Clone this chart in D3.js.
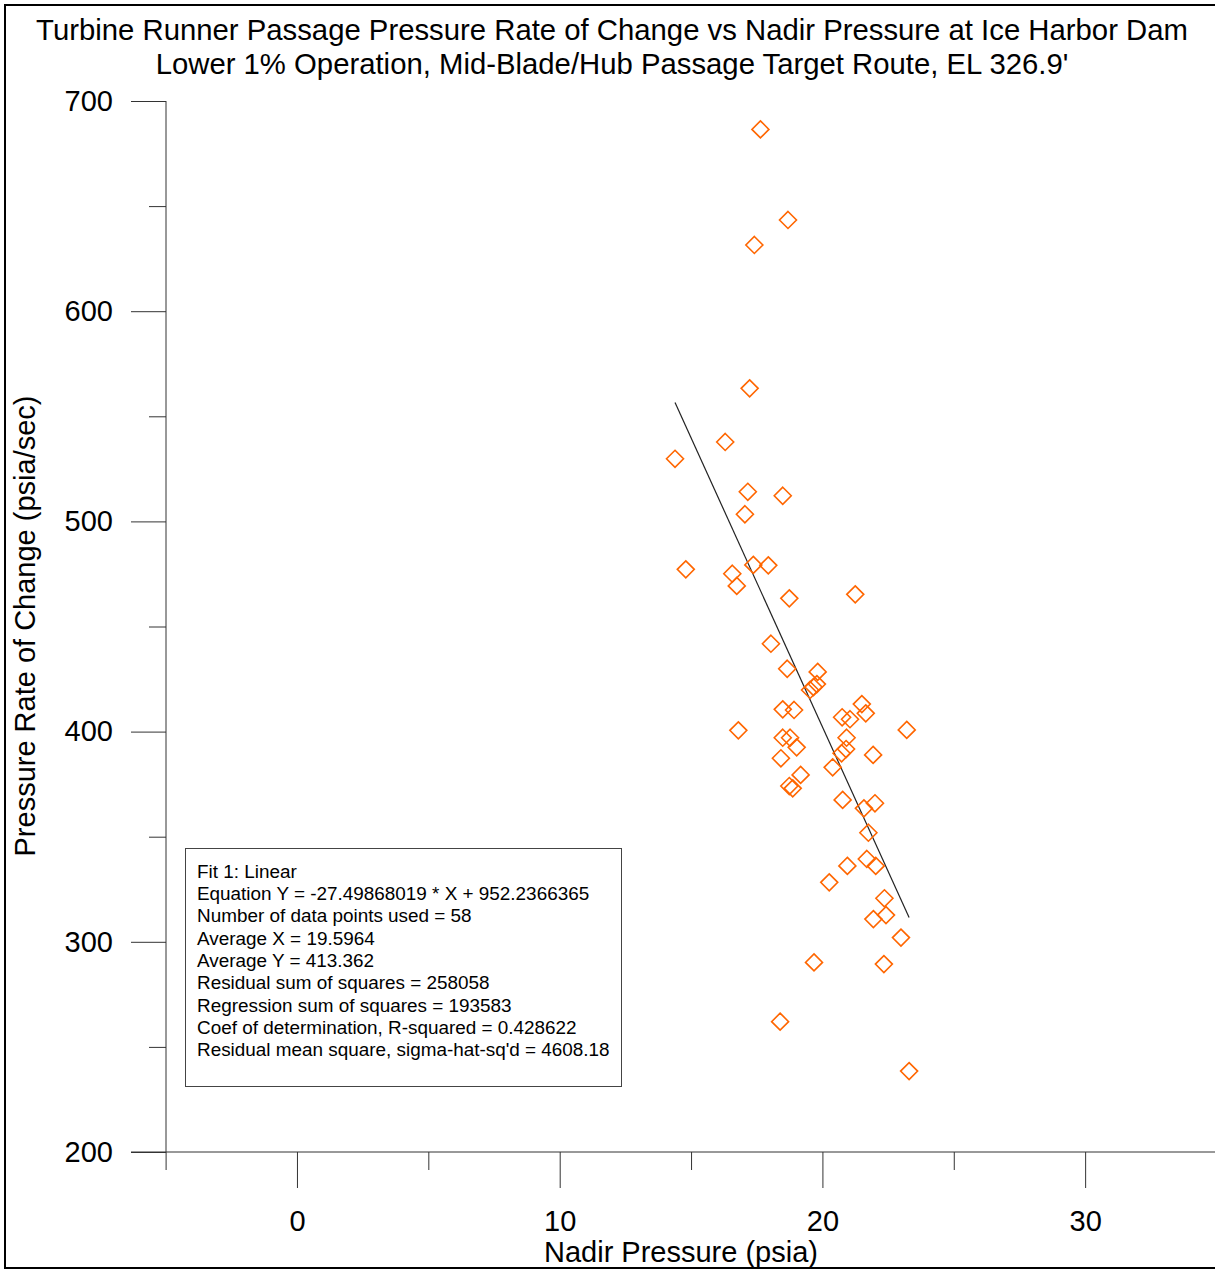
<!DOCTYPE html>
<html>
<head>
<meta charset="utf-8">
<script src="https://cdn.jsdelivr.net/npm/d3@7/dist/d3.min.js"></script>
<style>
  html, body { margin: 0; padding: 0; background: #fff; }
  svg text { font-family: "Liberation Sans", Arial, sans-serif; fill: #000; }
</style>
</head>
<body>
<svg id="chart" width="1215" height="1271"></svg>
<script>
// ---- Data ----
const nadirPressure = [
  17.64, 18.69, 17.41, 17.23, 16.30, 14.39, 17.16, 18.49, 17.05, 14.80,
  16.57, 16.74, 17.37, 17.94, 18.74, 21.25, 18.04, 18.66, 19.82, 19.53,
  19.66, 19.79, 18.49, 18.92, 20.75, 21.50, 21.65, 21.05, 16.80, 23.21,
  18.49, 18.77, 19.02, 20.92, 18.42, 20.90, 20.73, 21.93, 20.39, 19.17,
  18.74, 18.87, 20.77, 22.00, 21.58, 21.75, 20.95, 21.69, 22.03, 20.26,
  22.36, 21.94, 22.42, 22.99, 19.68, 22.34, 18.39, 23.30
];
const rateOfChange = [
  686.5, 643.4, 631.5, 563.3, 537.8, 529.8, 514.1, 512.2, 503.4, 477.2,
  475.1, 469.3, 479.3, 479.1, 463.4, 465.3, 441.8, 429.9, 428.4, 419.8,
  421.2, 422.6, 410.6, 410.3, 406.8, 413.1, 408.7, 405.9, 400.6, 400.8,
  397.1, 397.1, 392.5, 397.1, 387.3, 391.7, 389.7, 388.9, 383.0, 379.4,
  374.1, 373.0, 367.5, 365.9, 363.5, 351.9, 336.1, 339.4, 336.1, 328.3,
  320.7, 310.8, 312.7, 302.0, 290.2, 289.4, 262.0, 238.5
];
const fitSlope = -27.49868019;
const fitIntercept = 952.2366365;

const xMajorTicks = [0, 10, 20, 30];
const xMinorTicks = [-5, 5, 15, 25];
const yMajorTicks = [200, 300, 400, 500, 600, 700];
const yMinorTicks = [250, 350, 450, 550, 650];

const titleLines = [
  "Turbine Runner Passage Pressure Rate of Change vs Nadir Pressure at Ice Harbor Dam",
  "Lower 1% Operation, Mid-Blade/Hub Passage Target Route, EL 326.9'"
];
const xTitle = "Nadir Pressure (psia)";
const yTitle = "Pressure Rate of Change (psia/sec)";
const fitLines = [
  "Fit 1: Linear",
  "Equation Y = -27.49868019 * X + 952.2366365",
  "Number of data points used = 58",
  "Average X = 19.5964",
  "Average Y = 413.362",
  "Residual sum of squares = 258058",
  "Regression sum of squares = 193583",
  "Coef of determination, R-squared = 0.428622",
  "Residual mean square, sigma-hat-sq'd = 4608.18"
];

// ---- Drawing ----
const svg = d3.select("#chart");
const FS = 29;
const x = d3.scaleLinear().domain([-5, 35]).range([165.6, 1216.5]);
const y = d3.scaleLinear().domain([200, 700]).range([1152, 101]);
const axisColor = "#333";

// outer frame
svg.append("rect").attr("x", 5).attr("y", 5).attr("width", 1300).attr("height", 1263)
  .attr("fill", "none").attr("stroke", "#000").attr("stroke-width", 2);

// title
svg.selectAll("text.title").data(titleLines).join("text")
  .attr("class", "title")
  .attr("x", 612).attr("y", (d, i) => 40 + i * 34)
  .attr("text-anchor", "middle").style("font-size", "29.3px")
  .text(d => d);

// x axis
function styleAxis(g) {
  g.select(".domain").remove();
  g.selectAll(".tick line").attr("stroke", axisColor).attr("stroke-width", 1);
}
svg.append("g").attr("transform", "translate(0,1152)")
  .call(d3.axisBottom(x).tickValues(xMinorTicks).tickSize(18).tickFormat(""))
  .call(styleAxis);
const gxMajor = svg.append("g").attr("transform", "translate(0,1152)")
  .call(d3.axisBottom(x).tickValues(xMajorTicks).tickSize(36).tickPadding(22).tickFormat(d3.format("d")))
  .call(styleAxis);
gxMajor.selectAll(".tick text").style("font-size", FS + "px").attr("fill", "#000");
svg.append("line").attr("x1", 131).attr("x2", 1215).attr("y1", 1152).attr("y2", 1152)
  .attr("stroke", axisColor);

// y axis
svg.append("g").attr("transform", "translate(166,0)")
  .call(d3.axisLeft(y).tickValues(yMinorTicks).tickSize(17).tickFormat(""))
  .call(styleAxis);
const gyMajor = svg.append("g").attr("transform", "translate(166,0)")
  .call(d3.axisLeft(y).tickValues(yMajorTicks).tickSize(35).tickPadding(18).tickFormat(d3.format("d")))
  .call(styleAxis);
gyMajor.selectAll(".tick text").style("font-size", FS + "px").attr("fill", "#000");
svg.append("line").attr("x1", 166).attr("x2", 166).attr("y1", 101).attr("y2", 1152)
  .attr("stroke", axisColor);

// axis titles
svg.append("text").attr("x", 681).attr("y", 1262).attr("text-anchor", "middle")
  .style("font-size", FS + "px").text(xTitle);
svg.append("text").attr("transform", "translate(35,626) rotate(-90)").attr("text-anchor", "middle")
  .style("font-size", FS + "px").text(yTitle);

// regression line over the data range
const xExt = d3.extent(nadirPressure);
svg.append("line")
  .attr("x1", x(xExt[0])).attr("y1", y(fitSlope * xExt[0] + fitIntercept))
  .attr("x2", x(xExt[1])).attr("y2", y(fitSlope * xExt[1] + fitIntercept))
  .attr("stroke", "#222").attr("stroke-width", 1.2);

// points (diamonds)
const pts = nadirPressure.map((v, i) => ({ x: v, y: rateOfChange[i] }));
const r = 8.5;
svg.append("g").selectAll("path").data(pts).join("path")
  .attr("d", d => {
    const cx = x(d.x), cy = y(d.y);
    return `M${cx},${cy - r}L${cx + r},${cy}L${cx},${cy + r}L${cx - r},${cy}Z`;
  })
  .attr("fill", "none").attr("stroke", "#ff6600").attr("stroke-width", 1.6);

// fit info box
svg.append("rect").attr("x", 185.5).attr("y", 848.5).attr("width", 436).attr("height", 238)
  .attr("fill", "#fff").attr("stroke", "#444").attr("stroke-width", 1);
svg.selectAll("text.fit").data(fitLines).join("text")
  .attr("class", "fit")
  .attr("x", 197).attr("y", (d, i) => 877.5 + i * 22.35)
  .style("font-size", "18.9px")
  .text(d => d);
</script>
</body>
</html>
